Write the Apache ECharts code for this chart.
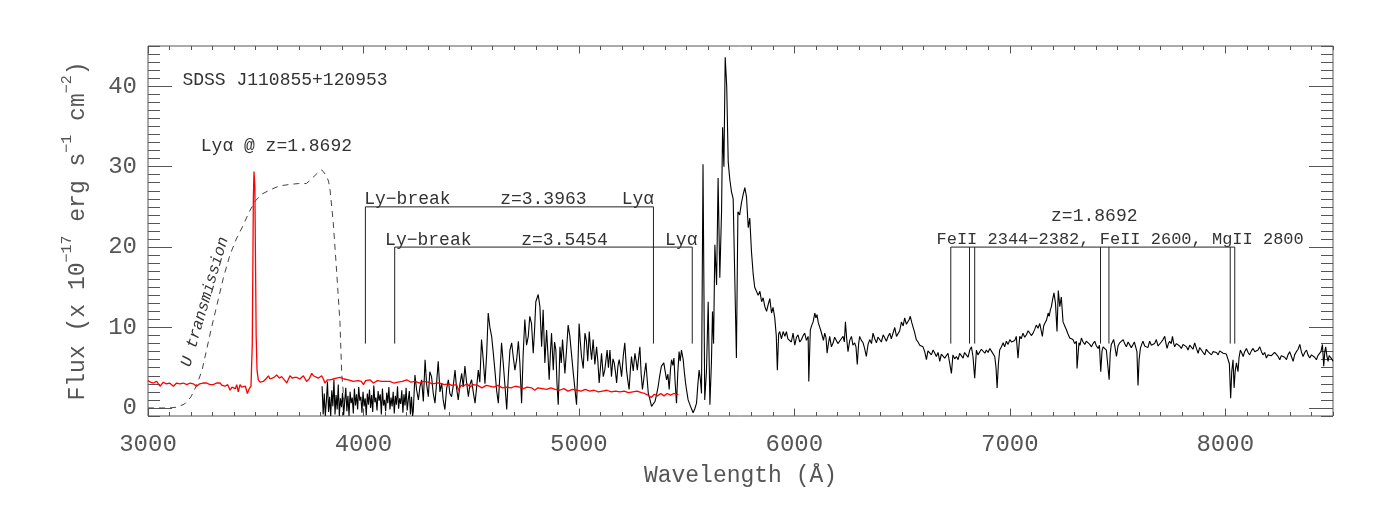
<!DOCTYPE html>
<html>
<head>
<meta charset="utf-8">
<title>SDSS J110855+120953</title>
<script src="https://cdn.jsdelivr.net/npm/echarts@6/dist/echarts.min.js"></script>
<style>
  html, body { margin: 0; padding: 0; background: #fff; }
  #chart { width: 1378px; height: 511px; }
</style>
</head>
<body>
<div id="chart"></div>
<script>
// spectrum of the background object, [wavelength (Å), flux]
const objSpectrum = [
  [3808,2.7],[3813,-0.8],[3818,1.8],[3823,-1.0],[3828,0.9],[3833,3.3],[3838,-0.5],[3843,1.4],[3848,-1.0],[3853,2.2],
  [3858,0.2],[3863,3.5],[3868,-0.8],[3873,1.6],[3878,-0.2],[3883,2.9],[3888,-1.0],[3893,1.2],[3898,0.1],[3903,1.9],
  [3908,-0.9],[3913,0.8],[3918,2.5],[3923,-0.4],[3928,1.5],[3933,-1.0],[3938,2.0],[3943,0.6],[3948,1.3],[3953,-0.7],
  [3958,2.4],[3963,0.3],[3968,1.7],[3973,-0.2],[3978,2.6],[3983,0.9],[3988,1.4],[3993,-0.6],[3998,2.0],[4003,0.2],
  [4008,1.2],[4013,-0.9],[4018,1.8],[4023,0.4],[4028,2.3],[4033,0.0],[4038,1.6],[4043,-0.5],[4048,2.8],[4053,0.7],
  [4058,1.3],[4063,-0.3],[4068,2.1],[4073,0.9],[4078,1.7],[4083,-0.8],[4088,2.4],[4093,0.3],[4098,1.0],[4103,-0.4],
  [4108,1.9],[4113,0.6],[4118,2.6],[4123,-0.2],[4128,1.3],[4133,0.2],[4138,2.0],[4143,-0.7],[4148,1.5],[4153,0.4],
  [4158,2.7],[4163,-0.1],[4168,1.2],[4173,0.5],[4178,2.2],[4183,-0.6],[4188,1.7],[4193,0.3],[4198,2.5],[4203,-0.3],
  [4208,1.0],[4213,2.1],[4218,-0.8],[4223,1.4],[4228,-1.0],
  [4231,-0.5],[4239,4.1],[4247,2.2],[4255,1.0],[4262,2.6],[4270,3.5],[4278,0.8],[4286,6.0],[4293,3.0],[4301,1.4],
  [4308,4.5],[4316,3.9],[4324,1.8],[4332,0.6],[4340,3.3],[4347,5.8],[4355,2.0],[4363,3.1],[4370,1.0],[4378,-0.2],
  [4386,2.4],[4394,3.5],[4401,1.8],[4409,1.4],[4417,2.8],[4425,4.7],[4432,2.5],[4440,1.0],[4448,3.0],[4456,4.3],
  [4463,2.6],[4471,5.2],[4479,3.1],[4487,1.4],[4494,2.9],[4502,3.5],[4510,1.9],[4518,0.6],[4525,2.5],[4533,4.7],
  [4540,3.2],[4548,8.5],[4556,6.0],[4564,3.0],[4572,6.8],[4579,11.8],[4587,10.0],[4595,8.9],[4602,7.0],[4610,4.7],
  [4618,2.2],[4626,0.6],[4633,4.0],[4641,8.1],[4649,5.5],[4657,2.7],[4665,-0.2],[4672,3.8],[4680,7.2],[4688,8.1],
  [4695,6.4],[4703,4.7],[4711,6.0],[4719,8.3],
  [4726,5.6],[4734,0.6],[4741,6.5],[4749,11.0],[4757,7.8],[4765,8.9],[4772,11.4],[4780,10.5],[4788,6.8],[4794,9.6],
  [4800,13.2],[4811,14.1],[4819,12.6],[4827,7.6],[4834,12.2],[4842,5.6],[4850,9.7],[4856,6.8],[4862,3.5],[4868,7.0],
  [4873,9.3],[4881,4.7],[4887,8.2],[4893,7.2],[4898,3.2],[4904,0.4],[4912,7.6],[4918,5.6],[4924,8.5],[4930,6.2],
  [4935,4.3],[4943,7.4],[4950,10.3],[4958,8.9],[4966,6.6],[4974,4.3],[4981,2.5],[4989,0.4],[4995,5.0],[5001,10.5],
  [5006,8.4],[5012,6.4],[5020,4.9],[5028,9.3],[5035,8.3],[5041,5.8],[5048,9.5],[5053,7.6],[5059,6.0],[5066,8.5],
  [5074,5.4],[5082,7.6],[5088,5.8],[5094,3.1],[5100,5.0],[5105,6.8],[5113,3.9],[5120,4.7],[5131,7.2],[5137,5.0],
  [5144,7.2],[5151,3.9],[5158,6.1],[5164,5.6],[5170,4.4],[5175,3.1],[5181,5.2],[5187,6.0],[5193,5.0],[5198,3.9],
  [5206,6.5],[5213,8.1],[5221,4.7],[5227,3.4],[5233,2.3],[5239,4.8],[5244,6.4],[5252,4.6],[5260,6.8],[5266,5.8],
  [5271,4.7],[5277,6.2],[5283,7.6],[5289,4.2],[5295,2.3],[5303,4.0],[5311,5.6],[5317,3.5],[5322,1.8],[5330,1.0],
  [5337,0.2],[5345,0.4],[5353,0.8],[5360,1.6],[5368,2.7],[5375,4.0],[5383,5.2],[5394,5.6],[5400,4.6],[5407,3.5],
  [5413,4.2],[5419,2.3],[5425,4.8],[5430,6.0],[5436,5.3],[5441,6.2],[5447,3.0],[5453,0.6],[5459,4.4],[5465,7.0],
  [5470,5.8],[5476,7.2],[5484,6.0],[5490,4.3],[5495,3.1],[5501,2.0],[5507,1.0],[5512,0.8],[5518,0.2],[5524,-0.2],
  [5530,-0.6],[5538,-0.1],[5546,0.6],[5552,2.9],[5558,4.7],[5564,3.5],[5569,1.8],
  [5576,30.3],[5584,1.0],[5592,4.5],[5600,13.2],[5608,0.4],[5615,5.6],[5620,12.0],[5625,8.0],[5631,20.3],[5639,15.3],
  [5646,28.6],[5654,16.2],[5662,24.4],[5667,34.9],[5673,30.0],[5679,43.6],[5686,40.0],[5693,30.6],[5700,28.5],[5708,26.9],
  [5716,26.0],[5724,26.2],[5731,6.2],[5738,24.4],[5746,24.0],[5755,25.6],[5762,26.5],[5770,27.4],[5778,26.2],[5786,22.4],
  [5793,23.6],[5801,19.4],[5809,16.6],[5816,15.0],[5824,14.5],[5832,14.0],[5840,14.5],[5848,13.2],[5855,13.7],[5863,12.6],
  [5871,12.0],[5878,12.8],[5886,13.6],[5894,11.8],[5901,12.5],[5909,11.2],[5916,9.0],[5921,4.7],[5927,9.2],[5932,9.5],
  [5940,8.6],[5948,9.5],[5956,8.9],[5963,9.5],[5970,8.6],[5978,8.7],[5986,8.2],[5994,9.3],[6002,7.8],[6010,8.8],
  [6017,9.1],[6025,8.2],[6033,8.5],[6041,9.0],[6048,9.3],[6056,8.4],[6064,8.9],[6067,3.3],[6074,9.7],[6081,10.3],
  [6087,10.7],[6095,11.8],[6100,11.2],[6105,11.6],[6111,10.6],[6118,10.7],[6123,9.6],[6128,9.1],[6135,8.4],[6141,9.3],
  [6147,8.7],[6152,6.8],[6158,8.0],[6164,8.9],[6172,7.6],[6180,8.1],[6187,8.8],[6195,8.9],[6202,8.0],[6210,7.8],
  [6218,8.6],[6226,8.9],[6232,8.2],[6237,10.7],[6243,8.6],[6249,7.0],[6257,8.4],[6265,8.9],[6272,7.8],[6280,8.1],
  [6286,7.6],[6292,5.4],[6298,7.9],[6303,8.9],[6311,8.4],[6319,8.1],[6326,7.4],[6334,6.4],[6342,7.9],[6350,8.5],
  [6358,8.0],[6365,9.3],[6373,8.6],[6381,8.1],[6388,8.8],[6396,8.9],[6404,8.2],[6412,9.1],[6420,8.7],[6427,8.3],
  [6435,8.9],[6443,9.3],[6450,8.6],[6458,8.5],[6466,10.0],[6474,8.9],[6481,8.7],[6489,9.6],[6497,10.7],[6505,10.2],
  [6512,11.2],[6520,10.4],[6528,10.5],[6533,11.0],[6538,11.4],[6545,10.6],[6551,10.5],[6558,9.4],[6566,8.5],[6574,8.2],
  [6582,7.8],[6590,7.9],[6597,7.6],[6605,7.0],[6613,6.0],[6620,7.1],[6628,7.0],[6636,6.6],[6644,7.2],[6652,6.8],
  [6659,6.4],[6667,6.9],[6675,5.8],[6682,6.7],[6690,6.6],[6698,6.2],[6706,6.0],[6713,6.8],[6721,6.6],[6729,4.3],
  [6736,6.6],[6744,6.1],[6752,6.4],[6760,6.0],[6767,6.8],[6775,6.5],[6783,6.2],[6790,6.9],[6798,6.6],[6806,6.3],
  [6814,7.2],[6822,7.6],[6829,6.4],[6837,3.7],[6845,7.2],[6852,6.6],[6860,6.8],[6868,7.3],[6876,7.4],[6884,6.8],
  [6891,7.2],[6899,6.9],[6907,7.4],[6914,7.1],[6922,7.0],[6930,6.4],[6936,5.0],[6941,2.5],[6947,5.5],[6953,7.2],
  [6961,7.6],[6969,8.1],[6976,7.6],[6984,8.3],[6992,7.9],[7000,8.5],[7008,8.2],[7015,8.1],[7023,8.4],[7030,8.9],
  [7038,6.2],[7046,8.9],[7053,8.6],[7061,9.3],[7069,8.8],[7077,9.1],[7085,9.6],[7092,9.5],[7100,9.0],[7108,9.3],
  [7116,9.8],[7123,10.3],[7131,9.9],[7139,10.5],[7151,8.9],[7157,10.2],[7162,10.5],[7170,10.9],[7178,11.8],[7183,11.4],
  [7188,12.2],[7193,12.6],[7198,13.4],[7205,14.3],[7212,13.0],[7219,9.5],[7225,14.6],[7232,12.6],[7239,13.8],[7247,10.7],
  [7255,10.2],[7263,9.7],[7270,9.2],[7278,8.7],[7285,8.9],[7293,8.5],[7301,8.0],[7309,8.3],[7312,4.9],[7321,8.1],
  [7326,7.8],[7332,8.7],[7340,8.2],[7348,7.9],[7355,8.3],[7363,8.5],[7371,7.9],[7379,7.6],[7386,8.0],[7394,8.3],
  [7402,7.7],[7410,7.4],[7416,7.8],[7422,4.5],[7428,7.1],[7433,7.6],[7440,7.8],[7448,7.2],[7455,7.0],[7461,3.5],
  [7466,6.8],[7471,7.9],[7477,8.1],[7482,8.5],[7488,7.6],[7495,6.4],[7502,7.7],[7510,8.1],[7518,7.9],[7526,8.5],
  [7533,8.0],[7541,7.6],[7549,8.2],[7557,8.1],[7564,7.5],[7572,7.9],[7578,8.2],[7584,8.3],[7590,7.0],[7595,2.8],
  [7600,6.0],[7606,7.4],[7612,7.9],[7618,8.3],[7626,7.7],[7634,7.9],[7641,7.5],[7649,8.3],[7657,7.8],[7665,7.6],
  [7672,8.0],[7680,8.5],[7688,7.7],[7696,7.9],[7703,8.2],[7711,8.5],[7719,8.9],[7725,8.0],[7730,7.4],[7736,8.0],
  [7742,8.3],[7749,8.0],[7755,8.9],[7760,8.1],[7765,7.6],[7773,8.0],[7781,8.1],[7788,7.7],[7796,7.4],[7804,7.9],
  [7812,8.1],[7820,7.6],[7827,7.2],[7835,7.8],[7843,7.6],[7850,7.3],[7858,8.1],[7866,7.4],[7874,6.8],[7881,7.5],
  [7889,7.2],[7897,6.9],[7905,6.6],[7912,7.3],[7920,7.0],[7928,6.8],[7936,6.6],[7943,7.0],[7951,7.2],[7959,6.9],
  [7967,6.6],[7974,7.1],[7982,7.2],[7990,6.8],[7997,7.0],[8005,6.7],[8013,6.6],[8019,5.5],[8025,1.2],[8030,4.5],
  [8036,6.0],[8041,2.5],[8046,4.6],[8052,5.6],[8059,4.5],[8064,6.3],[8070,7.2],[8077,6.8],[8083,6.4],[8090,7.0],
  [8098,7.4],[8106,6.9],[8113,6.6],[8121,7.1],[8129,7.4],[8137,7.0],[8144,6.8],[8152,7.2],[8160,7.6],[8168,7.0],
  [8175,6.6],[8183,6.9],[8191,6.2],[8198,6.6],[8206,6.8],[8214,6.5],[8222,6.4],[8229,6.9],[8237,6.8],[8245,6.4],
  [8253,6.0],[8260,6.5],[8268,6.6],[8276,6.3],[8284,6.0],[8291,6.6],[8299,7.0],[8307,6.4],[8315,5.8],[8322,6.6],
  [8330,7.0],[8338,7.3],[8346,7.9],[8353,7.0],[8361,6.4],[8369,6.9],[8377,7.2],[8384,6.6],[8392,6.2],[8400,6.6],
  [8408,6.8],[8415,6.3],[8423,6.0],[8430,6.5],[8438,6.4],[8444,7.0],[8451,7.9],[8457,5.2],[8462,7.0],[8466,7.6],
  [8472,6.4],[8477,5.8],[8482,6.5],[8488,6.6],[8494,6.1],[8500,5.8]
];

// spectrum of the z=1.8692 quasar, [wavelength (Å), flux]
const qsoSpectrum = [
  [3000,3.4],[3012,3.2],[3025,3.1],[3040,3.3],[3056,2.7],[3071,3.2],[3085,3.0],[3100,3.1],[3118,2.7],[3133,3.1],
  [3148,3.0],[3164,3.1],[3180,2.9],[3195,3.1],[3210,3.0],[3226,2.7],[3240,3.0],[3256,3.1],[3272,3.1],[3288,2.9],
  [3303,2.9],[3318,3.1],[3334,3.1],[3345,2.8],[3357,2.7],[3370,2.9],[3381,2.2],[3390,2.6],[3396,2.7],[3405,2.4],
  [3412,2.9],[3419,2.0],[3427,2.9],[3435,2.6],[3442,2.4],[3452,2.7],[3461,1.8],[3470,2.4],[3478,2.7],[3484,8.0],
  [3489,26.0],[3492,29.4],[3496,27.5],[3499,18.0],[3502,9.0],[3506,4.7],[3512,3.5],[3520,3.2],[3535,3.3],[3547,3.6],
  [3559,4.0],[3566,3.6],[3574,3.5],[3585,3.8],[3597,4.1],[3610,3.7],[3620,3.9],[3628,3.8],[3636,3.4],[3644,3.1],
  [3652,3.6],[3659,4.0],[3670,3.7],[3680,3.8],[3690,3.8],[3705,3.6],[3721,4.0],[3728,3.8],[3736,3.3],[3748,3.6],
  [3760,4.3],[3768,4.0],[3775,3.8],[3790,3.7],[3806,4.0],[3814,3.6],[3821,3.1],[3832,3.5],[3845,3.5],[3860,3.6],
  [3875,3.7],[3891,3.8],[3910,3.6],[3930,3.5],[3953,3.3],[3975,3.4],[3990,3.3],[4000,2.9],[4010,3.4],[4030,3.5],
  [4046,3.1],[4065,3.4],[4085,3.3],[4105,3.3],[4123,3.3],[4140,3.1],[4160,3.2],[4180,3.3],[4201,3.5],[4220,3.2],
  [4240,3.3],[4260,3.1],[4278,3.3],[4300,3.2],[4320,3.0],[4340,3.1],[4355,3.1],[4375,2.9],[4395,3.0],[4410,2.8],
  [4432,2.9],[4442,2.2],[4452,2.8],[4463,2.7],[4480,3.0],[4495,2.6],[4510,2.9],[4530,2.8],[4550,2.5],[4570,2.8],
  [4587,2.7],[4605,2.6],[4625,2.8],[4645,2.5],[4665,2.6],[4685,2.5],[4705,2.7],[4725,2.6],[4742,2.4],[4760,2.6],
  [4780,2.5],[4795,2.2],[4810,2.5],[4830,2.4],[4850,2.3],[4870,2.5],[4890,2.3],[4910,2.2],[4930,2.4],[4950,2.1],
  [4970,2.3],[4990,2.2],[5010,2.1],[5030,2.3],[5050,2.1],[5070,2.2],[5090,2.0],[5110,2.1],[5130,2.2],[5150,2.0],
  [5170,2.1],[5190,2.0],[5210,2.1],[5230,1.9],[5250,2.0],[5270,2.1],[5290,1.9],[5305,1.8],[5320,1.6],[5335,1.3],
  [5350,1.7],[5365,1.5],[5380,1.8],[5395,1.5],[5410,1.8],[5425,1.6],[5440,1.8],[5455,1.7],[5462,1.7]
];

// U filter transmission, scaled to the flux axis
const uTransmission = [
  [3000,0],[3100,0],[3135,0.1],[3170,0.5],[3200,1.4],[3225,2.8],[3250,4.6],[3270,7.0],[3295,10.0],[3320,12.8],
  [3350,16.2],[3380,19.0],[3410,21.0],[3440,22.6],[3470,24.4],[3500,25.8],[3530,26.6],[3565,27.1],[3610,27.6],[3660,27.8],
  [3700,27.9],[3735,27.9],[3760,28.5],[3790,29.3],[3806,29.6],[3825,29.0],[3838,28.2],[3845,27.1],[3860,23.0],[3876,16.8],
  [3891,10.6],[3899,4.3],[3910,0.8]
];

// Ly-break / Lya brackets and the z=1.8692 absorber lines
const lyBreak1 = [[4009, 8], [4009, 25], [5346, 25], [5346, 8]];
const lyBreak2 = [[4145, 8], [4145, 20], [5526, 20], [5526, 8]];
const absorberBar = [[6726, 8], [6726, 20], [8044, 20], [8044, 8]];
const absorberLines = [6813, 6837, 7421, 7460, 8023];
const absorberLow = 8;
const absorberHigh = 20;

const noteText = [
  'SDSS J110855+120953', 'Lyα @ z=1.8692',
  'Ly−break', 'z=3.3963', 'Lyα',
  'Ly−break', 'z=3.5454', 'Lyα',
  'z=1.8692', 'FeII 2344−2382, FeII 2600, MgII 2800',
  'U transmission'
];
const noteWave = [3636, 3596, 4204, 4835, 5274, 4301, 4933, 5475, 7392, 7512, 3264];
const noteFlux = [40.8, 32.6, 25.9, 25.9, 25.9, 20.9, 20.9, 20.9, 23.8, 20.9, 13.2];

const xMajorTicks = [3000, 4000, 5000, 6000, 7000, 8000];
const yMajorTicks = [0, 10, 20, 30, 40];

const FONT = '"Liberation Mono", "DejaVu Sans Mono", monospace';
const AXIS_COLOR = '#555';
const TEXT_COLOR = '#555';

const xMinorTicks = [];
for (let w = 3000; w <= 8500; w += 100) xMinorTicks.push(w);
const yMinorTicks = [];
for (let f = -1; f <= 45; f += 1) yMinorTicks.push(f);

function xAxisOf(position, ticks, len, withLabels) {
  const ax = {
    type: 'value', min: 3000, max: 8500, position: position,
    axisLine: { show: false, onZero: false },
    splitLine: { show: false },
    axisTick: { show: true, inside: true, length: len, customValues: ticks, lineStyle: { color: AXIS_COLOR, width: 1 } },
    axisLabel: { show: false }
  };
  if (withLabels) {
    ax.axisLabel = {
      show: true, customValues: ticks, margin: 17, fontFamily: FONT, fontSize: 24, color: TEXT_COLOR,
      formatter: v => String(v)
    };
    ax.name = 'Wavelength (Å)';
    ax.nameLocation = 'middle';
    ax.nameGap = 48;
    ax.nameTextStyle = { fontFamily: FONT, fontSize: 23, color: TEXT_COLOR };
  }
  return ax;
}

function yAxisOf(position, ticks, len, withLabels) {
  const ax = {
    type: 'value', min: -1, max: 45, position: position,
    axisLine: { show: false, onZero: false },
    splitLine: { show: false },
    axisTick: { show: true, inside: true, length: len, customValues: ticks, lineStyle: { color: AXIS_COLOR, width: 1 } },
    axisLabel: { show: false }
  };
  if (withLabels) {
    ax.axisLabel = {
      show: true, customValues: ticks, margin: 11, fontFamily: FONT, fontSize: 24, color: TEXT_COLOR,
      formatter: v => String(v)
    };
    ax.name = '{a|Flux (x 10}{s|−17}{a| erg s}{s|−1}{a| cm}{s|−2}{a|)}';
    ax.nameLocation = 'middle';
    ax.nameRotate = 90;
    ax.nameGap = 52;
    ax.nameTextStyle = {
      fontFamily: FONT, fontSize: 23, color: TEXT_COLOR,
      rich: {
        a: { fontFamily: FONT, fontSize: 23, lineHeight: 36, color: TEXT_COLOR },
        s: { fontFamily: FONT, fontSize: 15, verticalAlign: 'top', color: TEXT_COLOR }
      }
    };
  }
  return ax;
}

const chart = echarts.init(document.getElementById('chart'), null, { renderer: 'canvas' });

const absorberSegments = absorberLines.map(w => [[w, absorberLow], [w, absorberHigh]]);

chart.setOption({
  animation: false,
  backgroundColor: '#fff',
  grid: {
    left: 148, right: 45, top: 46, bottom: 95,
    show: true, borderColor: AXIS_COLOR, borderWidth: 1,
    containLabel: false, outerBoundsMode: 'none'
  },
  xAxis: [
    xAxisOf('bottom', xMajorTicks, 7.5, true),
    xAxisOf('bottom', xMinorTicks, 4, false),
    xAxisOf('top', xMajorTicks, 7.5, false),
    xAxisOf('top', xMinorTicks, 4, false)
  ],
  yAxis: [
    yAxisOf('left', yMajorTicks, 24, true),
    yAxisOf('left', yMinorTicks, 12, false),
    yAxisOf('right', yMajorTicks, 24, false),
    yAxisOf('right', yMinorTicks, 12, false)
  ],
  series: [
    {
      name: 'U transmission', type: 'line', data: uTransmission,
      symbol: 'none', silent: true, z: 2,
      lineStyle: { color: '#444', width: 1, type: [6, 5] }
    },
    {
      name: 'SDSS J110855+120953', type: 'line', data: objSpectrum,
      symbol: 'none', silent: true, z: 3,
      lineStyle: { color: '#000', width: 1.1 }
    },
    {
      name: 'QSO z=1.8692', type: 'line', data: qsoSpectrum,
      symbol: 'none', silent: true, z: 4,
      lineStyle: { color: '#ff0000', width: 1.3 }
    },
    {
      name: 'markers', type: 'lines', coordinateSystem: 'cartesian2d', polyline: true,
      silent: true, z: 5,
      data: [lyBreak1, lyBreak2, absorberBar].concat(absorberSegments).map(c => ({ coords: c })),
      lineStyle: { color: '#222', width: 1, opacity: 1 }
    },
    {
      name: 'notes', type: 'custom', coordinateSystem: 'cartesian2d',
      silent: true, z: 6, clip: false,
      data: noteWave.map((w, i) => [w, noteFlux[i]]),
      renderItem: function (params, api) {
        const i = params.dataIndex;
        const p = api.coord([api.value(0), api.value(1)]);
        const isU = noteText[i] === 'U transmission';
        const isLong = noteText[i].length > 20;
        return {
          type: 'text', x: p[0], y: p[1],
          rotation: isU ? 73.6 * Math.PI / 180 : 0,
          style: {
            text: noteText[i],
            fontFamily: FONT,
            fontSize: isU ? 16 : (isLong ? 17 : 18),
            fontStyle: isU ? 'italic' : 'normal',
            fill: '#333',
            align: 'center',
            verticalAlign: 'middle'
          }
        };
      }
    }
  ]
});
</script>
</body>
</html>
